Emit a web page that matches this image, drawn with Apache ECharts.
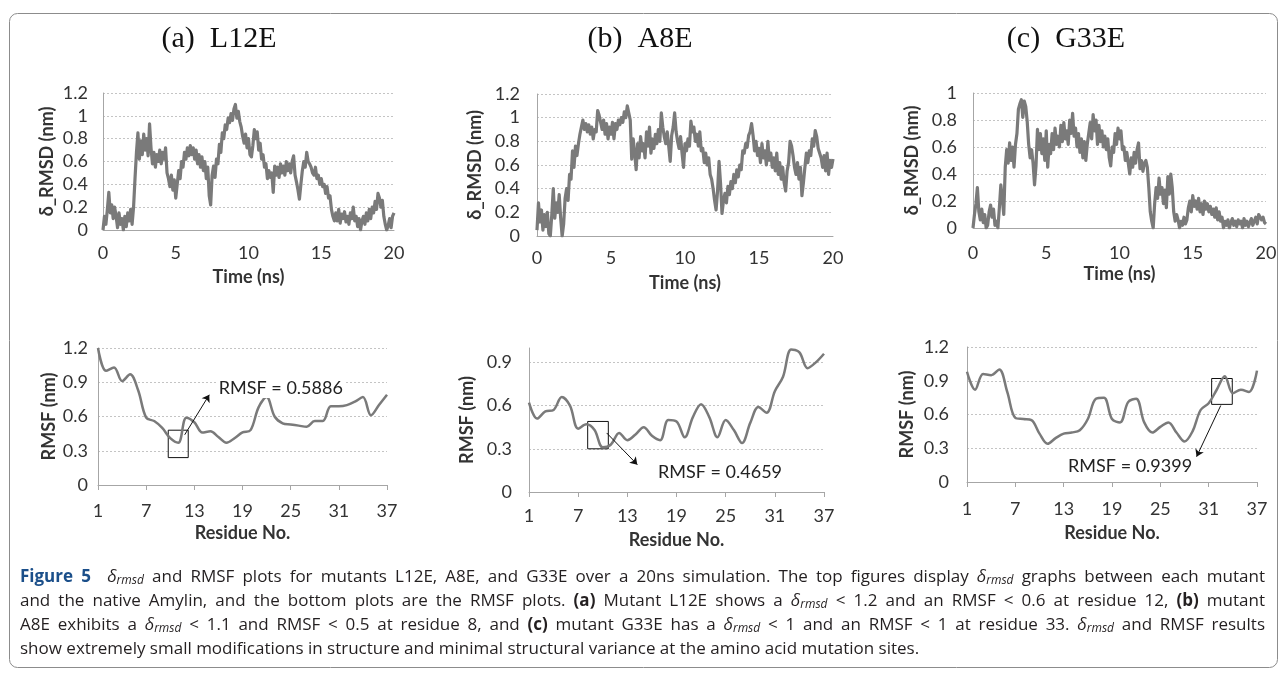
<!DOCTYPE html>
<html><head><meta charset="utf-8">
<script src="https://cdn.jsdelivr.net/npm/echarts@6/dist/echarts.min.js"></script>
<style>html,body{margin:0;padding:0;background:#fff}#c{width:1285px;height:676px}</style>
</head><body><div id="c"></div>
<script>
// ---------------- data ----------------
const panelTitles = ['(a)  L12E', '(b)  A8E', '(c)  G33E'];
const timeStepNs = 0.1; // sampling step of the delta-RMSD traces, 0 .. 20 ns
const timeTicks = { min: 0, max: 20, interval: 5 };

const rmsdL12E = [
0.00,0.12,0.05,0.18,0.33,0.15,0.22,0.10,0.20,0.12,
0.02,0.15,0.05,0.10,0.00,0.12,0.03,0.15,0.08,0.18,
0.05,0.20,0.45,0.68,0.85,0.62,0.78,0.66,0.84,0.70,
0.80,0.65,0.93,0.72,0.58,0.68,0.55,0.66,0.60,0.70,
0.58,0.68,0.62,0.72,0.50,0.45,0.38,0.48,0.35,0.44,
0.28,0.40,0.52,0.45,0.60,0.55,0.68,0.62,0.72,0.65,
0.74,0.66,0.72,0.62,0.70,0.58,0.66,0.55,0.64,0.52,
0.60,0.45,0.55,0.30,0.22,0.48,0.56,0.46,0.62,0.58,
0.75,0.68,0.85,0.80,0.92,0.88,0.98,0.94,1.02,0.96,
1.06,1.10,0.98,1.04,0.95,0.90,0.82,0.76,0.84,0.72,
0.80,0.66,0.64,0.74,0.88,0.80,0.86,0.70,0.76,0.62,
0.66,0.55,0.58,0.45,0.52,0.46,0.50,0.33,0.56,0.48,
0.55,0.46,0.58,0.50,0.56,0.48,0.60,0.52,0.58,0.50,
0.60,0.65,0.48,0.42,0.35,0.27,0.40,0.52,0.60,0.55,
0.68,0.60,0.58,0.55,0.50,0.48,0.55,0.45,0.48,0.40,
0.45,0.38,0.40,0.32,0.38,0.28,0.30,0.18,0.12,0.08,
0.15,0.08,0.18,0.06,0.14,0.10,0.16,0.07,0.12,0.05,
0.15,0.10,0.20,0.08,0.12,0.03,0.10,0.00,0.08,0.12,
0.05,0.15,0.08,0.18,0.10,0.20,0.15,0.25,0.18,0.32,
0.28,0.20,0.26,0.12,0.05,0.00,0.04,0.10,0.02,0.12,
0.15];

const rmsdA8E = [
0.05,0.28,0.12,0.22,0.05,0.18,0.08,0.20,0.02,0.00,
0.18,0.40,0.15,0.28,0.20,0.35,0.15,0.00,0.10,0.32,
0.40,0.30,0.52,0.48,0.72,0.58,0.76,0.68,0.78,0.86,
0.92,0.98,0.90,0.95,0.88,0.94,0.86,0.92,0.82,0.90,
0.88,1.06,1.02,0.96,0.90,0.98,0.86,0.95,0.82,0.92,
0.86,0.96,0.82,0.95,0.90,0.98,0.94,1.00,0.96,1.05,
1.00,1.10,1.04,0.98,0.65,0.82,0.70,0.56,0.78,0.66,
0.84,0.72,0.78,0.66,0.88,0.76,0.92,0.70,0.82,0.74,
0.86,0.78,0.90,0.80,1.04,0.92,0.84,0.78,0.88,0.76,
0.63,0.85,0.92,1.04,0.88,0.80,0.74,0.84,0.70,0.58,
0.78,0.72,0.82,0.76,0.97,0.88,0.92,0.80,0.86,0.76,
0.88,0.72,0.74,0.62,0.70,0.60,0.66,0.52,0.48,0.40,
0.30,0.22,0.38,0.63,0.45,0.19,0.30,0.36,0.28,0.42,
0.35,0.46,0.40,0.52,0.45,0.56,0.50,0.60,0.56,0.72,
0.70,0.78,0.75,0.85,0.88,0.95,0.85,0.72,0.80,0.68,
0.74,0.62,0.78,0.66,0.72,0.60,0.80,0.64,0.70,0.58,
0.66,0.55,0.70,0.52,0.62,0.48,0.58,0.45,0.38,0.55,
0.62,0.80,0.76,0.68,0.58,0.52,0.62,0.48,0.58,0.34,
0.45,0.58,0.70,0.62,0.72,0.68,0.82,0.76,0.89,0.84,
0.74,0.70,0.66,0.58,0.68,0.55,0.70,0.52,0.64,0.58,
0.65];

const rmsdG33E = [
0.00,0.10,0.18,0.30,0.12,0.06,0.14,0.04,0.10,0.00,
0.02,0.12,0.17,0.08,0.14,0.02,0.05,0.00,0.15,0.32,
0.22,0.10,0.45,0.58,0.48,0.63,0.50,0.60,0.45,0.62,
0.70,0.88,0.92,0.95,0.82,0.94,0.90,0.79,0.62,0.52,
0.58,0.48,0.32,0.46,0.73,0.58,0.70,0.55,0.66,0.50,
0.72,0.45,0.62,0.55,0.70,0.58,0.74,0.62,0.68,0.60,
0.76,0.64,0.78,0.66,0.72,0.62,0.80,0.70,0.85,0.68,
0.74,0.60,0.70,0.56,0.66,0.52,0.64,0.50,0.62,0.70,
0.78,0.66,0.84,0.72,0.80,0.62,0.76,0.64,0.72,0.60,
0.68,0.58,0.66,0.52,0.46,0.60,0.56,0.70,0.62,0.74,
0.66,0.72,0.58,0.60,0.50,0.56,0.48,0.40,0.52,0.45,
0.56,0.48,0.58,0.63,0.44,0.50,0.42,0.48,0.50,0.45,
0.30,0.12,0.05,0.00,0.18,0.30,0.22,0.37,0.25,0.30,
0.18,0.28,0.15,0.38,0.25,0.40,0.30,0.12,0.05,0.10,
0.06,0.00,0.05,0.02,0.08,0.03,0.06,0.15,0.20,0.12,
0.24,0.16,0.20,0.14,0.22,0.12,0.18,0.10,0.20,0.14,
0.18,0.12,0.16,0.10,0.14,0.08,0.15,0.06,0.12,0.05,
0.08,0.00,0.05,0.02,0.06,0.00,0.04,0.07,0.02,0.05,
0.01,0.06,0.03,0.05,0.00,0.07,0.02,0.05,0.01,0.04,
0.07,0.02,0.05,0.08,0.03,0.10,0.11,0.06,0.08,0.04,
0.03];

const residues = [1,2,3,4,5,6,7,8,9,10,11,12,13,14,15,16,17,18,19,20,21,22,23,24,25,26,27,28,29,30,31,32,33,34,35,36,37];
const residueTicks = [1,7,13,19,25,31,37];
const rmsfL12E = [1.20,1.00,1.03,0.91,0.97,0.83,0.59,0.56,0.50,0.41,0.37,0.59,0.55,0.46,0.47,0.42,0.37,0.41,0.46,0.48,0.68,0.77,0.60,0.54,0.53,0.52,0.51,0.56,0.56,0.69,0.69,0.70,0.73,0.77,0.61,0.70,0.79];
const rmsfA8E  = [0.62,0.51,0.56,0.57,0.66,0.60,0.44,0.47,0.43,0.31,0.33,0.41,0.36,0.40,0.45,0.39,0.36,0.50,0.49,0.38,0.52,0.61,0.52,0.38,0.50,0.43,0.34,0.48,0.59,0.55,0.70,0.80,0.99,0.97,0.86,0.90,0.96];
const rmsfG33E = [0.98,0.82,0.96,0.95,1.00,0.80,0.57,0.56,0.55,0.43,0.34,0.39,0.43,0.44,0.46,0.56,0.74,0.75,0.56,0.53,0.71,0.74,0.53,0.44,0.49,0.53,0.44,0.36,0.45,0.64,0.70,0.82,0.94,0.79,0.82,0.80,0.99];
const rmsfLabels = ['RMSF = 0.5886', 'RMSF = 0.4659', 'RMSF = 0.9399'];

// annotation geometry in data space (residue, nm)
const boxes   = [[9.75,0.48,12.24,0.24],[8.16,0.49,10.68,0.30],[31.37,0.92,33.93,0.69]];
const arrows  = [[11.8,0.44,14.86,0.79],[10.48,0.41,14.22,0.19],[32.5,0.68,29.5,0.225]];
const textPos = [[15.8,0.85],[16.5,0.14],[13.3,0.142]];

// ---------------- chart ----------------
const chart = echarts.init(document.getElementById('c'), null, {renderer:'canvas', width:1285, height:676});
const FONT = 'Lato';
const GRAY = '#7a7a7a';
const axisLine = {show:true, onZero:false, lineStyle:{color:'#a6a6a6', width:1}};
const splitL = (extra) => Object.assign({show:true, lineStyle:{color:'#c4c4c4', type:[2,2], width:1}}, extra||{});
const lbl = (margin, extra) => Object.assign({color:'#333', fontFamily:FONT, fontSize:18, margin}, extra||{});
const nameStyle = {color:'#333', fontFamily:FONT, fontSize:18, fontWeight:'bold'};

const grids = [
  {left:103, top:93, width:291, height:137},
  {left:537, top:94, width:296, height:142},
  {left:973, top:93, width:293, height:135},
  {left:98,  top:348, width:289, height:137},
  {left:529, top:348, width:295, height:144},
  {left:967, top:347, width:290, height:135}
];

const topXMargin = [14, 13, 16], topXGap = [38, 38, 37];
const botXMargin = [17, 15, 18], botXGap = [39, 39, 42];
const topYMax = [1.2, 1.2, 1.0], topYMargin = [15, 17, 16], topYGap = [47, 53, 52];
const botYMax = [1.2, 1.0, 1.2], botYMargin = [10, 17, 18], botYGap = [40, 53, 51];

const xAxes = [], yAxes = [], series = [];
const rmsdSets = [rmsdL12E, rmsdA8E, rmsdG33E];
const rmsfSets = [rmsfL12E, rmsfA8E, rmsfG33E];

for (let i = 0; i < 3; i++) {
  xAxes.push({gridIndex:i, type:'value', min:timeTicks.min, max:timeTicks.max, interval:timeTicks.interval,
    axisLine, axisTick:{show:false}, splitLine:{show:false}, axisLabel:lbl(topXMargin[i]),
    name:'Time (ns)', nameLocation:'middle', nameGap:topXGap[i], nameTextStyle:nameStyle});
  yAxes.push({gridIndex:i, type:'value', min:0, max:topYMax[i], interval:0.2,
    axisLine, axisTick:{show:false}, splitLine:splitL(), axisLabel:lbl(topYMargin[i]),
    name:'δ_RMSD (nm)', nameLocation:'middle', nameGap:topYGap[i], nameTextStyle:nameStyle});
  series.push({type:'line', xAxisIndex:i, yAxisIndex:i, showSymbol:false, silent:true,
    lineStyle:{color:GRAY, width:3.2, join:'round'}, data: rmsdSets[i].map((v,k) => [+(k*timeStepNs).toFixed(1), v])});
}
for (let j = 0; j < 3; j++) {
  const g = 3 + j;
  xAxes.push({gridIndex:g, type:'value', min:residues[0], max:residues[residues.length-1],
    axisLine, axisTick:{show:true, customValues:residueTicks, length:5, lineStyle:{color:'#a6a6a6'}},
    splitLine:{show:false}, axisLabel:lbl(botXMargin[j], {customValues:residueTicks}),
    name:'Residue No.', nameLocation:'middle', nameGap:botXGap[j], nameTextStyle:nameStyle});
  yAxes.push({gridIndex:g, type:'value', min:0, max:botYMax[j], interval:0.3,
    axisLine, axisTick:{show:false}, splitLine:splitL({showMaxLine: botYMax[j] === 1.2}),
    axisLabel:lbl(botYMargin[j], {showMaxLabel: botYMax[j] === 1.2}),
    name:'RMSF (nm)', nameLocation:'middle', nameGap:botYGap[j], nameTextStyle:nameStyle});
  const b = boxes[j], a = arrows[j];
  series.push({type:'line', xAxisIndex:g, yAxisIndex:g, showSymbol:false, silent:true, smooth:0.35,
    lineStyle:{color:GRAY, width:2.5}, data: residues.map((r,k) => [r, rmsfSets[j][k]]),
    markArea:{silent:true, itemStyle:{color:'rgba(0,0,0,0)', borderColor:'#111', borderWidth:1},
      label:{show:false}, data:[[{coord:[b[0], b[1]]},{coord:[b[2], b[3]]}]]},
    markLine:{silent:true, symbol:['none','arrow'], symbolSize:7, label:{show:false},
      lineStyle:{color:'#111', width:1, type:'solid'}, emphasis:{disabled:true},
      data:[[{coord:[a[0], a[1]]},{coord:[a[2], a[3]]}]]}
  });
}

chart.setOption({
  animation:false,
  backgroundColor:'#fff',
  grid:grids, xAxis:xAxes, yAxis:yAxes, series
});

// titles, frame, caption, annotation labels
const graphic = [];
graphic.push({type:'rect', shape:{x:9.5, y:13.5, width:1268, height:654, r:8},
  style:{fill:'none', stroke:'#8c8c8c', lineWidth:1}, silent:true});
const titleX = [219, 640, 1066];
panelTitles.forEach((t,i) => graphic.push({type:'text', x:titleX[i], y:39, silent:true,
  style:{text:t, font:'30px "Liberation Serif"', fill:'#111', textAlign:'center', textVerticalAlign:'middle'}}));
for (let j = 0; j < 3; j++) {
  const p = chart.convertToPixel({gridIndex:3+j}, textPos[j]);
  graphic.push({type:'text', x:p[0], y:p[1], silent:true, z:100,
    style:{text:rmsfLabels[j], font:'18px Lato', fill:'#222', textAlign:'left', textVerticalAlign:'middle',
      backgroundColor:'#fff', padding:[1,2]}});
}

// caption: justified lines (last line ragged), built word by word
const CAP = 17, SUB = 12, CAPFONT = '"Open Sans"';
const styles = {
  n:{font:`${CAP}px ${CAPFONT}`, fill:'#231f20', dy:0},
  f:{font:`bold ${CAP}px ${CAPFONT}`, fill:'#1b4f8a', dy:0},
  k:{font:`bold ${CAP}px ${CAPFONT}`, fill:'#231f20', dy:0},
  d:{font:`italic ${CAP}px ${CAPFONT}`, fill:'#231f20', dy:0},
  s:{font:`italic ${SUB}px ${CAPFONT}`, fill:'#231f20', dy:4}
};
const capLines = [
  [['f','Figure 5'],['n',' '],['n',' '],['d','δ'],['s','rmsd'],['n',' and RMSF plots for mutants L12E, A8E, and G33E over a 20ns simulation. The top figures display '],['d','δ'],['s','rmsd'],['n',' graphs between each mutant']],
  [['n','and the native Amylin, and the bottom plots are the RMSF plots. '],['k','(a)'],['n',' Mutant L12E shows a '],['d','δ'],['s','rmsd'],['n',' < 1.2 and an RMSF < 0.6 at residue 12, '],['k','(b)'],['n',' mutant']],
  [['n','A8E exhibits a '],['d','δ'],['s','rmsd'],['n',' < 1.1 and RMSF < 0.5 at residue 8, and '],['k','(c)'],['n',' mutant G33E has a '],['d','δ'],['s','rmsd'],['n',' < 1 and an RMSF < 1 at residue 33. '],['d','δ'],['s','rmsd'],['n',' and RMSF results']],
  [['n','show extremely small modifications in structure and minimal structural variance at the amino acid mutation sites.']]
];
const capY = [577, 601, 625, 649];
const capLeft = 20, capRight = 1265;
const mctx = document.createElement('canvas').getContext('2d');
const measure = (font, t) => { mctx.font = font; return mctx.measureText(t).width; };
capLines.forEach((line, li) => {
  const toks = [];
  line.forEach(([st, txt]) => {
    txt.split(/( )/).forEach(piece => { if (piece !== '') toks.push({st, txt:piece, space: piece === ' '}); });
  });
  toks.forEach(t => t.w = measure(styles[t.st].font, t.txt));
  const total = toks.reduce((s,t) => s + t.w, 0);
  const nSpaces = toks.filter(t => t.space).length;
  const justify = li < capLines.length - 1;
  const extra = justify && nSpaces ? (capRight - capLeft - total) / nSpaces : 0;
  let x = capLeft;
  toks.forEach(t => {
    if (!t.space) {
      graphic.push({type:'text', x, y:capY[li] + styles[t.st].dy, silent:true,
        style:{text:t.txt, font:styles[t.st].font, fill:styles[t.st].fill, textAlign:'left', textVerticalAlign:'middle'}});
      x += t.w;
    } else {
      x += t.w + extra;
    }
  });
});

chart.setOption({graphic});
</script>
</body></html>
